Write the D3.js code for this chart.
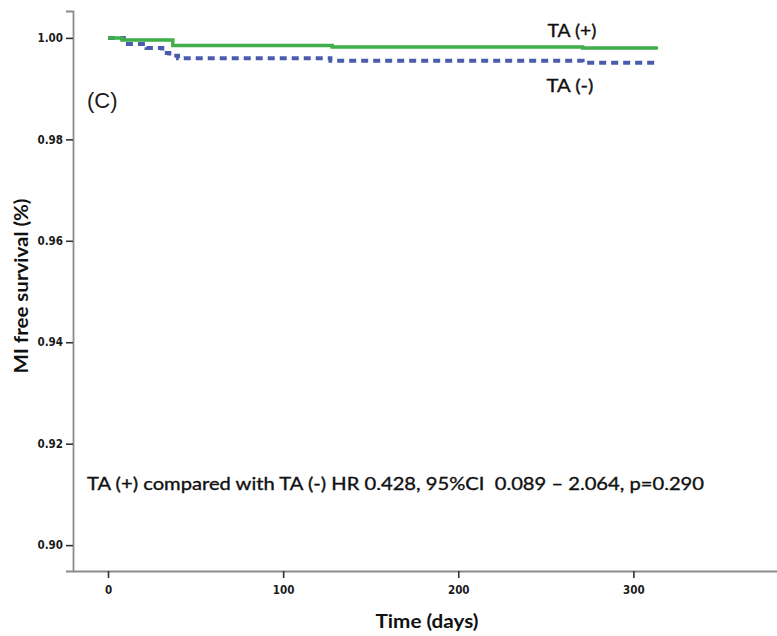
<!DOCTYPE html>
<html>
<head>
<meta charset="utf-8">
<script src="https://cdn.jsdelivr.net/npm/d3@7"></script>
<style>
  html, body { margin: 0; padding: 0; background: #fff; }
  svg { display: block; }
</style>
</head>
<body>
<svg id="chart" width="777" height="636"></svg>
<script>
// Kaplan–Meier step data: time (days) and MI-free survival
const taPosTime  = [0, 8, 37, 128, 271, 314];
const taPosSurv  = [1.000, 0.9996, 0.9985, 0.9982, 0.9980, 0.9980];
const taNegTime  = [0, 9, 22, 31, 35, 40, 127, 271, 314];
const taNegSurv  = [1.000, 0.9988, 0.9980, 0.9970, 0.9965, 0.9960, 0.9955, 0.9951, 0.9951];

const xTicks = [0, 100, 200, 300];
const yTicks = [0.90, 0.92, 0.94, 0.96, 0.98, 1.00];

const svg = d3.select("#chart");

const x = d3.scaleLinear().domain([-20, 382]).range([73, 777]);
const y = d3.scaleLinear().domain([0.8949, 1.0053]).range([571, 11]);

const axisColor = "#8c8c8c";
const tickFont = "'Liberation Sans Narrow', 'DejaVu Sans Condensed', 'Liberation Sans', sans-serif";
const textFont = "'Lato', 'Open Sans', sans-serif";

// Y axis
const yAxis = svg.append("g")
  .attr("transform", `translate(${x.range()[0]},0)`)
  .call(d3.axisLeft(y).tickValues(yTicks).tickFormat(d3.format(".2f")).tickSize(7).tickPadding(3));
yAxis.select(".domain").attr("stroke", axisColor).attr("stroke-width", 1.8);
yAxis.selectAll(".tick line").attr("stroke", "#333").attr("stroke-width", 1.6);
yAxis.selectAll(".tick text")
  .attr("font-family", tickFont).attr("font-weight", "bold")
  .attr("font-size", 11.5).attr("fill", "#1a1a1a");

// X axis
const xAxis = svg.append("g")
  .attr("transform", `translate(0,${y.range()[0]})`)
  .call(d3.axisBottom(x).tickValues(xTicks).tickFormat(d3.format("d")).tickSize(7).tickPadding(8).tickSizeOuter(0));
xAxis.select(".domain").attr("stroke", axisColor).attr("stroke-width", 1.8);
xAxis.selectAll(".tick line").attr("stroke", "#333").attr("stroke-width", 1.6);
xAxis.selectAll(".tick text")
  .attr("font-family", tickFont).attr("font-weight", "bold")
  .attr("font-size", 11.5).attr("fill", "#1a1a1a");

// Axis titles
svg.append("text")
  .attr("x", 427).attr("y", 628)
  .attr("text-anchor", "middle")
  .attr("font-family", textFont)
  .attr("font-weight", "bold").attr("font-size", 18).attr("fill", "#111")
  .attr("textLength", 103).attr("lengthAdjust", "spacingAndGlyphs")
  .text("Time (days)");

svg.append("text")
  .attr("transform", "translate(28,286) rotate(-90)")
  .attr("text-anchor", "middle")
  .attr("font-family", textFont)
  .attr("font-weight", "bold").attr("font-size", 18).attr("fill", "#111")
  .attr("textLength", 175).attr("lengthAdjust", "spacingAndGlyphs")
  .text("MI free survival (%)");

// Survival curves
const line = d3.line()
  .x(d => x(d[0]))
  .y(d => y(d[1]))
  .curve(d3.curveStepAfter);

svg.append("path")
  .datum(d3.zip(taNegTime, taNegSurv))
  .attr("d", line)
  .attr("fill", "none")
  .attr("stroke", "#4a5cae")
  .attr("stroke-width", 4)
  .attr("stroke-dasharray", "7,5");

svg.append("path")
  .datum(d3.zip(taPosTime, taPosSurv))
  .attr("d", line)
  .attr("fill", "none")
  .attr("stroke", "#3fae4b")
  .attr("stroke-width", 3.5);

// Curve labels
svg.append("text")
  .attr("x", 572).attr("y", 37)
  .attr("text-anchor", "middle")
  .attr("font-family", textFont).attr("font-size", 17.5).attr("fill", "#111")
  .attr("stroke", "#111").attr("stroke-width", 0.35)
  .attr("textLength", 49).attr("lengthAdjust", "spacingAndGlyphs")
  .text("TA (+)");
svg.append("text")
  .attr("x", 570).attr("y", 92)
  .attr("text-anchor", "middle")
  .attr("font-family", textFont).attr("font-size", 17.5).attr("fill", "#111")
  .attr("stroke", "#111").attr("stroke-width", 0.35)
  .attr("textLength", 47).attr("lengthAdjust", "spacingAndGlyphs")
  .text("TA (-)");

// Panel letter
svg.append("text")
  .attr("x", 87).attr("y", 108)
  .attr("font-family", "'Liberation Sans', Arial, sans-serif")
  .attr("font-size", 22).attr("fill", "#1a1a1a")
  .text("(C)");

// Hazard ratio annotation
svg.append("text")
  .attr("x", 87).attr("y", 490)
  .attr("font-family", textFont).attr("font-size", 17.5).attr("fill", "#111")
  .attr("stroke", "#111").attr("stroke-width", 0.35)
  .attr("textLength", 617).attr("lengthAdjust", "spacingAndGlyphs")
  .attr("xml:space", "preserve")
  .text("TA (+) compared with TA (-) HR 0.428, 95%CI  0.089 \u2013 2.064, p=0.290");
</script>
</body>
</html>
